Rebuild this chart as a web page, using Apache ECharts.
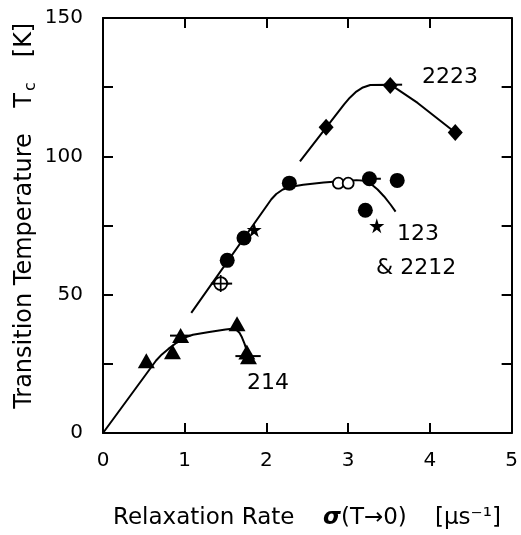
<!DOCTYPE html>
<html><head><meta charset="utf-8">
<script src="https://cdn.jsdelivr.net/npm/echarts@6/dist/echarts.min.js"></script>
<style>html,body{margin:0;padding:0;background:#fff}#c{width:521px;height:535px}</style>
</head><body><div id="c"></div>
<script>
// ---- data ----
const xTicks = [0, 1, 2, 3, 4, 5];
const yTicks = [0, 50, 100, 150];

// 214 family
const tri214 = [[0.53, 26.1], [0.85, 29.4], [0.95, 35.2], [1.64, 39.5], [1.76, 29.3], [1.78, 27.6]];
const curve214 = [[0, 0], [0.65, 26.2], [0.72, 28.4], [0.8, 30.4], [0.9, 32.6], [1.0, 34.5], [1.1, 35.5], [1.3, 36.5], [1.5, 37.4], [1.58, 37.7], [1.63, 37.3], [1.67, 36.2], [1.7, 34.6], [1.73, 32.4], [1.76, 29.8]];
const bars214 = [[0.82, 1.07, 35.2], [1.62, 1.93, 27.8]];

// 123 & 2212 family
const circ123 = [[1.52, 62.4], [1.725, 70.5], [2.28, 90.3], [3.26, 91.9], [3.60, 91.3], [3.21, 80.5]];
const open123 = [[2.88, 90.3], [3.0, 90.3]];
const cross123 = [[1.44, 54.0]];
const star123 = [[1.85, 73.5], [3.35, 74.9]];
const curve123 = [[1.08, 43.4], [2.06, 84.5], [2.12, 86.4], [2.2, 88.0], [2.3, 89.0], [2.45, 89.7], [2.7, 90.5], [2.9, 91.0], [3.1, 91.4], [3.2, 91.2], [3.28, 90.0], [3.36, 88.0], [3.44, 85.5], [3.52, 82.5], [3.58, 80.0]];
const bars123 = [[1.32, 1.58, 54.0], [3.18, 3.40, 91.9]];

// 2223 family
const dia2223 = [[2.73, 110.5], [3.515, 125.6], [4.31, 108.6]];
const curve2223 = [[2.41, 98.2], [2.95, 118.8], [3.02, 121.2], [3.1, 123.4], [3.18, 124.9], [3.27, 125.8], [3.52, 125.9], [3.6, 124.3], [3.85, 119.3], [4.31, 108.6]];
const bars2223 = [[3.44, 3.66, 125.9]];

// labels
const seriesLabels = [
  { text: '2223', x: 422, y: 77 },
  { text: '123', x: 397, y: 234 },
  { text: '& 2212', x: 376, y: 268 },
  { text: '214', x: 247, y: 383 }
];
const xTitleParts = [
  { text: 'Relaxation Rate', x: 113 },
  { text: '{s|σ}(T→0)', x: 323 },
  { text: '[μs⁻¹]', x: 435 }
];

// ---- chart ----
const black = '#000';
const FF = '"DejaVu Sans", sans-serif';
const chart = echarts.init(document.getElementById('c'), null, { renderer: 'canvas' });

const STAR = 'path://M50,0 L61,35 L98,35 L68,57 L79,91 L50,70 L21,91 L32,57 L2,35 L39,35 Z';
const PLUS = 'path://M45,0H55V45H100V55H55V100H45V55H0V45H45Z';

function lineSeries(data) {
  return { type: 'line', data: data, showSymbol: false, symbol: 'none', smooth: false,
    lineStyle: { color: black, width: 2 }, silent: true, z: 2 };
}
function barSeries(b) {
  return { type: 'line', data: [[b[0], b[2]], [b[1], b[2]]], showSymbol: false, symbol: 'none',
    lineStyle: { color: black, width: 2 }, silent: true, z: 3 };
}
function scatter(data, symbol, size, filled, z) {
  return { type: 'scatter', data: data, symbol: symbol, symbolSize: size, silent: true, z: z || 4,
    itemStyle: filled ? { color: black, opacity: 1 } : { color: '#fff', borderColor: black, borderWidth: 1.8, opacity: 1 } };
}

const series = [lineSeries(curve214), lineSeries(curve123), lineSeries(curve2223)];
bars214.concat(bars123, bars2223).forEach(b => series.push(barSeries(b)));
series.push(scatter(tri214, 'triangle', [17, 15], true));
series.push(scatter(circ123, 'circle', 15, true));
series.push(scatter(open123, 'circle', 11, false));
series.push(scatter(cross123, 'circle', 13, false));
series.push(scatter(cross123, PLUS, 17, true, 5));
series.push(scatter(star123, STAR, 15, true));
series.push(scatter(dia2223, 'diamond', [15, 17], true));

const axisCommon = {
  axisLine: { show: true, onZero: false, lineStyle: { color: black, width: 2 } },
  axisTick: { show: true, inside: true, length: 10, lineStyle: { color: black, width: 2 } },
  splitLine: { show: false }
};

const option = {
  animation: false,
  backgroundColor: '#fff',
  grid: { left: 103, right: 6, top: 18, bottom: 102, containLabel: false },
  xAxis: [
    Object.assign({ type: 'value', min: 0, max: 5, interval: 1, position: 'bottom',
      axisLabel: { show: true, color: black, fontSize: 20, fontFamily: FF, margin: 18,
        formatter: v => (xTicks.indexOf(v) >= 0 ? String(v) : '') } }, axisCommon),
    Object.assign({ type: 'value', min: 0, max: 5, interval: 1, position: 'top',
      axisLabel: { show: false } }, axisCommon)
  ],
  yAxis: [
    Object.assign({ type: 'value', min: 0, max: 150, interval: 25, position: 'left',
      axisLabel: { show: true, color: black, fontSize: 20, fontFamily: FF, margin: 20,
        formatter: v => (yTicks.indexOf(v) >= 0 ? String(v) : '') } }, axisCommon),
    Object.assign({ type: 'value', min: 0, max: 150, interval: 25, position: 'right',
      axisLabel: { show: false } }, axisCommon)
  ],
  graphic: xTitleParts.map(p => ({
    type: 'text', x: p.x, y: 518,
    style: {
      text: p.text, fontSize: 23, fontFamily: FF, fill: black, align: 'left', verticalAlign: 'middle',
      rich: { s: { fontSize: 23, fontFamily: FF, fontStyle: 'italic', fontWeight: 'bold', fill: black } }
    }
  })).concat([
    {
      type: 'text', x: 25, y: 271, rotation: Math.PI / 2,
      style: { text: 'Transition Temperature', fontSize: 24, fontFamily: FF, fill: black,
        align: 'center', verticalAlign: 'middle' }
    },
    {
      type: 'text', x: 25, y: 95, rotation: Math.PI / 2,
      style: { text: 'T{sub|c}', fontSize: 24, fontFamily: FF, fill: black,
        align: 'center', verticalAlign: 'middle',
        rich: { sub: { fontSize: 16, fontFamily: FF, fill: black, padding: [12, 0, 0, 2] } } }
    },
    {
      type: 'text', x: 25, y: 40, rotation: Math.PI / 2,
      style: { text: '[K]', fontSize: 24, fontFamily: FF, fill: black,
        align: 'center', verticalAlign: 'middle' }
    }
  ]).concat(seriesLabels.map(l => ({
    type: 'text', x: l.x, y: l.y,
    style: { text: l.text, fontSize: 22, fontFamily: FF, fill: black, align: 'left', verticalAlign: 'middle' }
  }))),
  series: series
};
chart.setOption(option);
</script>
</body></html>
